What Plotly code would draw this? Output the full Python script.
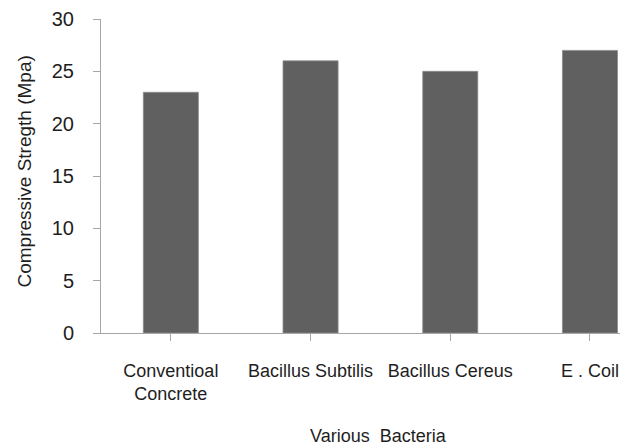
import plotly.graph_objects as go

# Compressive strength of concrete with different bacteria
categories = ["Conventioal<br>Concrete", "Bacillus Subtilis", "Bacillus Cereus", "E . Coil"]
strength = [23, 26, 25, 27]
y_ticks = [0, 5, 10, 15, 20, 25, 30]

FONT = "Liberation Sans, Arial, sans-serif"
AXIS_GREY = "#a6a6a6"
TEXT = "#1e1e1e"

W, H = 620, 447
L, R, T, B = 101, 0, 19, 114
plot_w = W - L - R
plot_h = H - T - B

fig = go.Figure(
    go.Bar(
        x=list(range(len(categories))),
        y=strength,
        width=0.394,
        marker=dict(color="#606060", line=dict(color="#8c8c8c", width=0.8)),
        hoverinfo="skip",
    )
)

fig.update_layout(
    width=W,
    height=H,
    margin=dict(l=L, r=R, t=T, b=B, autoexpand=False),
    paper_bgcolor="white",
    plot_bgcolor="white",
    showlegend=False,
    font=dict(family=FONT, color=TEXT),
)

fig.update_xaxes(
    tickmode="array",
    tickvals=list(range(len(categories))),
    ticktext=categories,
    range=[-0.5, 3.215],
    showline=True,
    linecolor=AXIS_GREY,
    linewidth=1,
    ticks="outside",
    tickson="boundaries",
    ticklen=7,
    tickcolor=AXIS_GREY,
    showgrid=False,
    zeroline=False,
    tickfont=dict(size=18, family=FONT, color=TEXT),
    ticklabelstandoff=14,
    tickangle=0,
    automargin=False,
)

fig.update_yaxes(
    range=[0, 30],
    tickmode="array",
    tickvals=y_ticks,
    showline=True,
    linecolor=AXIS_GREY,
    linewidth=1,
    ticks="outside",
    ticklen=7,
    tickcolor=AXIS_GREY,
    showgrid=False,
    zeroline=False,
    tickfont=dict(size=20, family=FONT, color=TEXT),
    ticklabelstandoff=15,
    automargin=False,
)

# axis titles placed as annotations
fig.add_annotation(
    text="Compressive Stregth (Mpa)",
    xref="paper", yref="paper",
    x=(24 - L) / plot_w, y=(T + plot_h - 171.5) / plot_h,
    xanchor="center", yanchor="middle",
    textangle=-90, showarrow=False,
    font=dict(size=19, family=FONT, color=TEXT),
)
fig.add_annotation(
    text="Various  Bacteria",
    xref="paper", yref="paper",
    x=(378.5 - L) / plot_w, y=(T + plot_h - 436) / plot_h,
    xanchor="center", yanchor="middle",
    showarrow=False,
    font=dict(size=18, family=FONT, color=TEXT),
)

fig.write_html("out.html")
